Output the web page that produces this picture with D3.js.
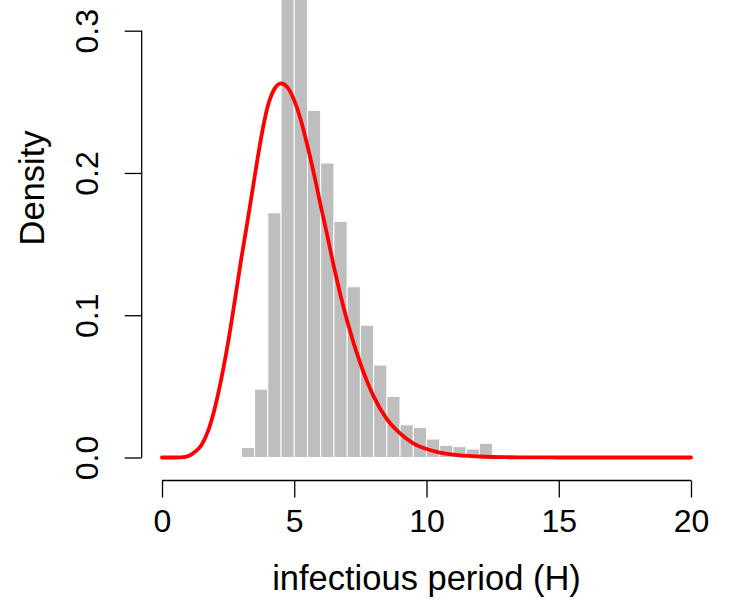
<!DOCTYPE html>
<html>
<head>
<meta charset="utf-8">
<script src="https://cdn.jsdelivr.net/npm/d3@7"></script>
<style>
  body { margin: 0; background: #fff; }
  text { font-family: "Liberation Sans", Arial, Helvetica, sans-serif; fill: #000; }
</style>
</head>
<body>
<div id="plot"></div>
<script>
// histogram bins (left edge, right edge) and density heights
var binLeft  = [3, 3.5, 4, 4.5, 5, 5.5, 6, 6.5, 7, 7.5, 8, 8.5, 9, 9.5, 10, 10.5, 11, 11.5, 12];
var binRight = [3.5, 4, 4.5, 5, 5.5, 6, 6.5, 7, 7.5, 8, 8.5, 9, 9.5, 10, 10.5, 11, 11.5, 12, 12.5];
var binDensity = [0.007, 0.048, 0.172, 0.366, 0.380, 0.244, 0.207, 0.166, 0.120, 0.093,
                  0.065, 0.043, 0.023, 0.021, 0.013, 0.0086, 0.0076, 0.006, 0.010];

// fitted density curve
var curveX = [0, 0.5, 0.9, 1.25, 1.5, 1.75, 2, 2.25, 2.5, 2.75, 3, 3.25, 3.5, 3.75, 4, 4.25,
              4.5, 4.75, 5, 5.25, 5.5, 5.75, 6, 6.25, 6.5, 6.75, 7, 7.5, 8, 8.5, 9, 9.5,
              10, 10.5, 11, 12, 13, 14, 15, 20];
var curveY = [0, 0, 0.0005, 0.004, 0.009, 0.019, 0.035, 0.056, 0.081, 0.110, 0.140, 0.168,
              0.197, 0.225, 0.247, 0.259, 0.263, 0.260, 0.251, 0.237, 0.219, 0.199, 0.177,
              0.156, 0.134, 0.114, 0.096, 0.066, 0.043, 0.027, 0.017, 0.010, 0.006, 0.0035,
              0.002, 0.0007, 0.0002, 0.0001, 0, 0];

var xTicks = [0, 5, 10, 15, 20];
var yTicks = [0, 0.1, 0.2, 0.3];
var xLabel = "infectious period (H)";
var yLabel = "Density";

var W = 731, H = 604;
var fontSize = 32;
var titleSize = 34.5;

var svg = d3.select("#plot")
  .append("svg")
  .attr("width", W)
  .attr("height", H);

var x = d3.scaleLinear()
  .domain([0, 20])
  .range([162, 691]);

var y = d3.scaleLinear()
  .domain([0, 0.3])
  .range([457.5, 30.7]);

// bars
svg.append("g")
  .selectAll("rect")
  .data(binDensity)
  .enter()
  .append("rect")
  .attr("x", function(d, i) { return x(binLeft[i]); })
  .attr("width", function(d, i) { return x(binRight[i]) - x(binLeft[i]); })
  .attr("y", function(d) { return y(d); })
  .attr("height", function(d) { return y(0) - y(d); })
  .style("fill", "#bebebe")
  .style("stroke", "#fff")
  .style("stroke-width", 1);

// density line
var lineFunction = d3.line()
  .x(function(d) { return x(d[0]); })
  .y(function(d) { return y(d[1]); })
  .curve(d3.curveMonotoneX);

svg.append("path")
  .attr("d", lineFunction(d3.zip(curveX, curveY)))
  .attr("stroke", "#ff0000")
  .attr("stroke-width", 3.8)
  .attr("stroke-linejoin", "round")
  .attr("stroke-linecap", "round")
  .attr("fill", "none");

// x axis, R style: line spans first to last tick
var xAxisY = 480.5;
var tickLen = 17;
var gx = svg.append("g")
  .attr("transform", "translate(0," + xAxisY + ")")
  .call(d3.axisBottom(x).tickValues(xTicks).tickSize(tickLen).tickPadding(12).tickFormat(d3.format("d")));
gx.select(".domain").remove();
gx.append("line")
  .attr("x1", x(xTicks[0])).attr("x2", x(xTicks[xTicks.length - 1]))
  .attr("stroke", "#000");
gx.selectAll("line").attr("stroke", "#000").attr("stroke-width", 1.3);
gx.selectAll("text")
  .style("font-size", fontSize + "px")
  .style("font-family", "\"Liberation Sans\", Arial, sans-serif")
  .attr("fill", "#000");

// y axis
var yAxisX = 141.7;
var gy = svg.append("g")
  .attr("transform", "translate(" + yAxisX + ",0)")
  .call(d3.axisLeft(y).tickValues(yTicks).tickSize(tickLen).tickFormat(d3.format(".1f")));
gy.select(".domain").remove();
gy.append("line")
  .attr("y1", y(yTicks[0])).attr("y2", y(yTicks[yTicks.length - 1]))
  .attr("stroke", "#000");
gy.selectAll("line").attr("stroke", "#000").attr("stroke-width", 1.3);
gy.selectAll(".tick text")
  .attr("x", null).attr("dy", null)
  .attr("transform", "translate(-44,0) rotate(-90)")
  .attr("text-anchor", "middle")
  .style("font-size", fontSize + "px")
  .style("font-family", "\"Liberation Sans\", Arial, sans-serif")
  .attr("fill", "#000");

// axis titles
svg.append("text")
  .attr("x", (x(0) + x(20)) / 2)
  .attr("y", 590)
  .attr("text-anchor", "middle")
  .style("font-size", titleSize + "px")
  .text(xLabel);

svg.append("text")
  .attr("transform", "translate(44,188) rotate(-90)")
  .attr("text-anchor", "middle")
  .style("font-size", titleSize + "px")
  .text(yLabel);
</script>
</body>
</html>
